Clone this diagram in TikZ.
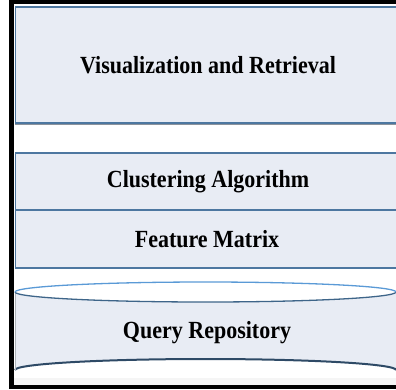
\documentclass[tikz,border=0pt]{standalone}
\usepackage{fontspec}
\setmainfont{Liberation Serif}
\newcommand{\tallbold}[1]{\scalebox{1}[1.12]{#1}}
\begin{document}
\begin{tikzpicture}[x=1pt,y=-1pt,
  layerfill/.style={fill=layerbg},
  layerbox/.style={draw=layeredge, line width=1.6pt, fill=layerbg, inner sep=0pt},
  layertext/.style={font=\fontsize{22}{24}\selectfont\bfseries, text=black}
]
\definecolor{layerbg}{HTML}{E8ECF4}
\definecolor{layeredge}{HTML}{4D77A0}
\definecolor{rimtop}{HTML}{3E6589}
\definecolor{rimbottom}{HTML}{5A9AD6}
\definecolor{shadowgray}{HTML}{8C939C}
\definecolor{baseshade}{HTML}{2E4A66}

\useasboundingbox (0,0) rectangle (396,389);
\clip (0,0) rectangle (396,389);

% outer frame
\fill[black] (9,0) rectangle (396,4);
\fill[black] (9,0) rectangle (14,389);
\fill[black] (9,385) rectangle (396,389);

% stacked layers
\draw[shadowgray, line width=1.2pt] (15,124.5) -- (400,124.5);
\node[layerbox, minimum width=388pt, minimum height=116pt, anchor=north west] (vis) at (14.8,6) {};
\node[layertext] (vist) at (208,65) {\tallbold{Visualization and Retrieval}};

\draw[shadowgray, line width=1.2pt] (15,268.5) -- (400,268.5);
\node[layerbox, minimum width=388pt, minimum height=57pt, anchor=north west] (clu) at (14.8,152) {};
\node[layertext] (clut) at (208,182) {\tallbold{Clustering Algorithm}};
\node[layerbox, minimum width=388pt, minimum height=58pt, anchor=north west] (fea) at (14.8,209) {};
\node[layertext] (feat) at (207,239) {\tallbold{Feature Matrix}};

% repository cylinder
\fill[white!92!gray] (14,378) rectangle (396,385);
\coordinate (cyltop) at (205.5,292);
\coordinate (cylbot) at (205.5,370);
\path[layerfill] (15,292) -- (15,370) arc[start angle=180, end angle=360, x radius=190.5, y radius=11]
  -- (396,292) arc[start angle=0, end angle=180, x radius=190.5, y radius=10] -- cycle;
\draw[baseshade, line width=2pt] (15,370) arc[start angle=180, end angle=360, x radius=190.5, y radius=11];
\draw[shadowgray!70, line width=1.4pt] (15.5,292) -- (15.5,370);
\draw[rimtop, line width=1.3pt] (15,292) arc[start angle=180, end angle=0, x radius=190.5, y radius=10];
\draw[rimbottom, line width=1.3pt] (15,292) arc[start angle=180, end angle=360, x radius=190.5, y radius=10];
\node[layertext] (qryt) at (207,333) {\tallbold{Query Repository}};
\end{tikzpicture}
\end{document}
